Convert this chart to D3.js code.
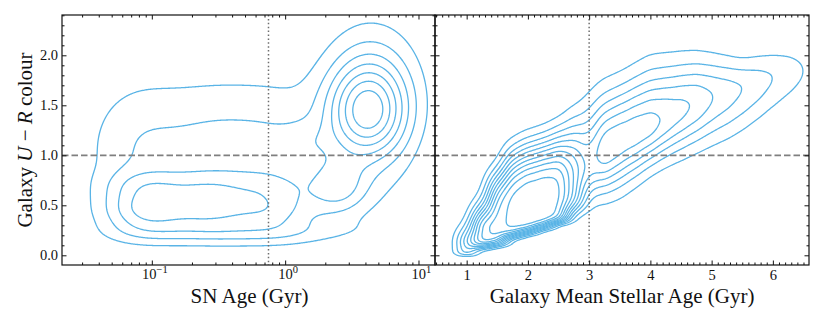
<!DOCTYPE html>
<html>
<head>
<meta charset="utf-8">
<script src="https://cdn.jsdelivr.net/npm/d3@7"></script>
<style>
  body { margin: 0; background: #fff; }
  text { font-family: "Liberation Serif", "DejaVu Serif", serif; fill: #111; }
</style>
</head>
<body>
<svg id="chart" width="830" height="312"></svg>
<script>
// Shared axis settings
const yDomain = [-0.097, 2.403];
const yTicks = [0.0, 0.5, 1.0, 1.5, 2.0];
const colourCut = 1.0;

// Left panel: SN age (log scale)
const leftDomain = [0.0212, 13.3];
const leftTicks = [0.1, 1, 10];
const leftTickExp = ["\u22121", "0", "1"];
const snAgeCut = 0.75;
// density blobs: u = log10(age), y = colour, widths (sLo/sHi below/above centre), peak height
const leftComponents = [
  // broad halo
  { u: -1.10, y: 1.05, su: 0.28, sLo: 0.49, sHi: 0.49, w: 1.80 },
  { u: -0.55, y: 1.05, su: 0.28, sLo: 0.49, sHi: 0.49, w: 1.77 },
  { u: -0.05, y: 1.05, su: 0.28, sLo: 0.49, sHi: 0.49, w: 1.77 },
  // young population
  { u: -1.05, y: 0.44, su: 0.22, sLo: 0.15, sHi: 0.15, w: 3.02 },
  { u: -0.58, y: 0.44, su: 0.23, sLo: 0.15, sHi: 0.15, w: 2.55 },
  { u: -0.10, y: 0.44, su: 0.23, sLo: 0.15, sHi: 0.15, w: 2.30 },
  { u: -1.05, y: 0.70, su: 0.22, sLo: 0.12, sHi: 0.12, w: 1.45 },
  { u: -0.58, y: 0.70, su: 0.23, sLo: 0.12, sHi: 0.12, w: 1.25 },
  { u: -0.10, y: 0.70, su: 0.23, sLo: 0.12, sHi: 0.12, w: 1.10 },
  // floor
  { u: -1.00, y: 0.22, su: 0.28, sLo: 0.09, sHi: 0.09, w: 0.90 },
  { u: -0.45, y: 0.22, su: 0.28, sLo: 0.09, sHi: 0.09, w: 0.90 },
  { u:  0.05, y: 0.22, su: 0.28, sLo: 0.09, sHi: 0.09, w: 0.85 },
  { u:  0.55, y: 0.25, su: 0.28, sLo: 0.09, sHi: 0.09, w: 0.35 },
  // old population
  { u:  0.62, y: 1.41, su: 0.21, sLo: 0.33, sHi: 0.33, w: 6.60 },
  { u:  0.40, y: 0.68, su: 0.16, sLo: 0.20, sHi: 0.20, w: 2.80 },
  { u:  0.65, y: 1.80, su: 0.24, sLo: 0.40, sHi: 0.40, w: 2.00 },
  { u:  0.18, y: 1.12, su: 0.14, sLo: 0.15, sHi: 0.15, w: 0.90 },
  { u:  0.80, y: 0.60, su: 0.25, sLo: 0.30, sHi: 0.30, w: 0.45 }
];
const leftLevels = [1, 2, 3, 4, 5, 6, 7];

// Right panel: galaxy mean stellar age (linear)
const rightDomain = [0.483, 6.59];
const rightTicks = [1, 2, 3, 4, 5, 6];
const galAgeCut = 3.0;
// density ridge read along the diagonal: age, ridge colour, ridge height, spread below / above
const ridgeAge     = [1.0, 1.25, 1.5, 1.75, 2.0, 2.25, 2.5, 2.75, 3.0, 3.25, 3.5, 3.75, 4.0, 4.25, 4.5, 4.75, 5.0, 5.25, 5.5, 5.75, 6.0, 6.25, 6.5, 6.75];
const ridgeColour  = [0.12, 0.27, 0.37, 0.46, 0.50, 0.54, 0.58, 0.72, 0.90, 1.04, 1.15, 1.22, 1.29, 1.37, 1.45, 1.52, 1.58, 1.62, 1.67, 1.72, 1.78, 1.82, 1.85, 1.87];
const ridgeHeight  = [5.0, 10.0, 10.5, 11.5, 11.85, 11.85, 11.7, 8.0, 5.0, 7.2, 6.7, 6.7, 6.55, 5.8, 5.3, 4.9, 4.0, 3.5, 3.0, 2.5, 2.0, 1.5, 1.0, 0.4];
const ridgeLow     = [0.09, 0.14, 0.19, 0.196, 0.196, 0.19, 0.18, 0.20, 0.22, 0.27, 0.30, 0.28, 0.255, 0.26, 0.275, 0.28, 0.29, 0.29, 0.28, 0.26, 0.24, 0.22, 0.20, 0.20];
const ridgeLowPow  = [3, 3, 4, 4, 4, 4, 4, 2, 1, 1, 1, 1, 1, 1, 1, 1, 1, 1, 1, 1, 1, 1, 1, 1];
const ridgeHigh    = [0.12, 0.16, 0.30, 0.38, 0.40, 0.40, 0.42, 0.42, 0.40, 0.37, 0.35, 0.36, 0.375, 0.35, 0.325, 0.30, 0.27, 0.24, 0.20, 0.20, 0.19, 0.19, 0.19, 0.19];
const ridgeHighPow = [1, 1, 1.5, 1.5, 1.5, 1.5, 1.5, 1.3, 1, 1, 1, 1, 1, 1, 1, 1, 1, 1, 1, 1, 1, 1, 1, 1];
const ridgeStep = 0.25, ridgeSpread = 0.15;
const rightLevels = [1, 2, 3, 4, 5, 6, 7, 8, 9, 10, 11];

const contourColor = "#5ab4e6";

const svg = d3.select("#chart");
const yTop = 15, yBot = 265;
const leftX0 = 62, midX = 435, rightX1 = 809;

const y = d3.scaleLinear().domain(yDomain).range([yBot, yTop]);
const xL = d3.scaleLog().domain(leftDomain).range([leftX0, midX]);
const xR = d3.scaleLinear().domain(rightDomain).range([midX, rightX1]);

// overlap of neighbouring ridge nodes, so a node's height is the summed height
const ridgeNorm = d3.sum(d3.range(-4, 5), k => Math.exp(-Math.pow(k * ridgeStep / ridgeSpread, 2) / 2));
const rightComponents = ridgeAge.map((g, i) => ({
  u: g, y: ridgeColour[i], su: ridgeSpread,
  sLo: ridgeLow[i], sHi: ridgeHigh[i], pLo: ridgeLowPow[i], pHi: ridgeHighPow[i],
  w: ridgeHeight[i] / ridgeNorm
}));

function density(comps, u, v) {
  let s = 0;
  for (const c of comps) {
    const a = (u - c.u) / c.su;
    const d = v - c.y;
    const t = d < 0 ? d / c.sLo : d / c.sHi;
    const p = d < 0 ? (c.pLo || 1) : (c.pHi || 1);
    s += c.w * Math.exp(-a * a / 2 - Math.pow(t * t / 2, p));
  }
  return s;
}

function drawContours(id, x0, x1, toU, comps, levels) {
  const nx = Math.round(x1 - x0), ny = yBot - yTop;
  const values = new Float64Array(nx * ny);
  for (let j = 0; j < ny; j++) {
    const v = y.invert(yTop + j + 0.5);
    for (let i = 0; i < nx; i++) {
      values[j * nx + i] = density(comps, toU(x0 + i + 0.5), v);
    }
  }
  const contours = d3.contours().size([nx, ny]).thresholds(levels)(values);

  svg.append("clipPath").attr("id", id)
    .append("rect").attr("x", x0).attr("y", yTop).attr("width", x1 - x0).attr("height", ny);

  svg.append("g")
      .attr("clip-path", `url(#${id})`)
      .attr("fill", "none")
      .attr("stroke", contourColor)
      .attr("stroke-width", 1.3)
      .attr("stroke-linejoin", "round")
    .selectAll("path")
    .data(contours)
    .join("path")
      .attr("d", d3.geoPath(d3.geoIdentity().translate([x0, yTop])));
}

drawContours("clipL", leftX0, midX, px => Math.log10(xL.invert(px)), leftComponents, leftLevels);
drawContours("clipR", midX, rightX1, px => xR.invert(px), rightComponents, rightLevels);

// reference lines
svg.append("line")
    .attr("x1", xL(snAgeCut)).attr("x2", xL(snAgeCut)).attr("y1", yTop).attr("y2", yBot)
    .attr("stroke", "#6e6e6e").attr("stroke-width", 1.5).attr("stroke-dasharray", "1.5,2.4");
svg.append("line")
    .attr("x1", xR(galAgeCut)).attr("x2", xR(galAgeCut)).attr("y1", yTop).attr("y2", yBot)
    .attr("stroke", "#6e6e6e").attr("stroke-width", 1.5).attr("stroke-dasharray", "1.5,2.4");
svg.append("line")
    .attr("x1", leftX0).attr("x2", rightX1).attr("y1", y(colourCut)).attr("y2", y(colourCut))
    .attr("stroke", "#7f7f7f").attr("stroke-width", 1.8).attr("stroke-dasharray", "6.5,3");

// axes helpers
function tickAxis(axis, transform, label) {
  const g = svg.append("g").attr("transform", transform).call(axis);
  g.select(".domain").remove();
  g.selectAll("line").attr("stroke", "#111").attr("stroke-width", 1);
  if (!label) g.selectAll("text").remove();
  return g;
}

const yMinor = d3.range(-0.0, 2.41, 0.1).map(d => +d.toFixed(1)).filter(d => !yTicks.includes(d));
const leftMinor = [];
[0.01, 0.1, 1, 10].forEach(p => d3.range(2, 10).forEach(k => {
  const v = +(p * k).toPrecision(3);
  if (v > leftDomain[0] && v < leftDomain[1]) leftMinor.push(v);
}));
const rightMinor = d3.range(0.5, 6.6, 0.1).map(d => +d.toFixed(1)).filter(d => !rightTicks.includes(d));

// y axes
[leftX0, midX, rightX1].forEach(xp => {
  if (xp !== rightX1) {
    tickAxis(d3.axisLeft(y).tickValues(yTicks).tickSize(-4.5).tickPadding(4).tickFormat(d3.format(".1f")),
      `translate(${xp},0)`, xp === leftX0)
      .selectAll("text").style("font-size", "14.5px");
    tickAxis(d3.axisLeft(y).tickValues(yMinor).tickSize(-2.5), `translate(${xp},0)`, false);
  }
  if (xp !== leftX0) {
    tickAxis(d3.axisRight(y).tickValues(yTicks).tickSize(-4.5), `translate(${xp},0)`, false);
    tickAxis(d3.axisRight(y).tickValues(yMinor).tickSize(-2.5), `translate(${xp},0)`, false);
  }
});

// left x axes
tickAxis(d3.axisBottom(xL).tickValues(leftTicks).tickSize(-4.5), `translate(0,${yBot})`, false);
tickAxis(d3.axisBottom(xL).tickValues(leftMinor).tickSize(-2.5), `translate(0,${yBot})`, false);
tickAxis(d3.axisTop(xL).tickValues(leftTicks).tickSize(-4.5), `translate(0,${yTop})`, false);
tickAxis(d3.axisTop(xL).tickValues(leftMinor).tickSize(-2.5), `translate(0,${yTop})`, false);

const leftLab = svg.append("g").selectAll("text").data(leftTicks).join("text")
    .attr("x", d => xL(d) + 3).attr("y", yBot + 14)
    .attr("text-anchor", "middle").style("font-size", "14.5px");
leftLab.append("tspan").text("10");
leftLab.append("tspan").attr("dy", -6).style("font-size", "10.5px").text((d, i) => leftTickExp[i]);

// right x axes
tickAxis(d3.axisBottom(xR).tickValues(rightTicks).tickSize(-4.5).tickPadding(5).tickFormat(d3.format("d")),
  `translate(0,${yBot})`, true).selectAll("text").style("font-size", "14.5px");
tickAxis(d3.axisBottom(xR).tickValues(rightMinor).tickSize(-2.5), `translate(0,${yBot})`, false);
tickAxis(d3.axisTop(xR).tickValues(rightTicks).tickSize(-4.5), `translate(0,${yTop})`, false);
tickAxis(d3.axisTop(xR).tickValues(rightMinor).tickSize(-2.5), `translate(0,${yTop})`, false);

// frames
[[leftX0, midX], [midX, rightX1]].forEach(([a, b]) => {
  svg.append("rect").attr("x", a).attr("y", yTop).attr("width", b - a).attr("height", yBot - yTop)
    .attr("fill", "none").attr("stroke", "#111").attr("stroke-width", 1.2);
});

// axis titles
svg.append("text").attr("x", (leftX0 + midX) / 2 + 1).attr("y", 303)
  .attr("text-anchor", "middle").style("font-size", "21px").text("SN Age (Gyr)");
svg.append("text").attr("x", (midX + rightX1) / 2).attr("y", 303)
  .attr("text-anchor", "middle").style("font-size", "21px").text("Galaxy Mean Stellar Age (Gyr)");

const yl = svg.append("text")
  .attr("transform", `translate(32,${(yTop + yBot) / 2}) rotate(-90)`)
  .attr("text-anchor", "middle").style("font-size", "21px");
yl.append("tspan").text("Galaxy ");
yl.append("tspan").style("font-style", "italic").text("U");
yl.append("tspan").text(" \u2212 ");
yl.append("tspan").style("font-style", "italic").text("R");
yl.append("tspan").text(" colour");
</script>
</body>
</html>
